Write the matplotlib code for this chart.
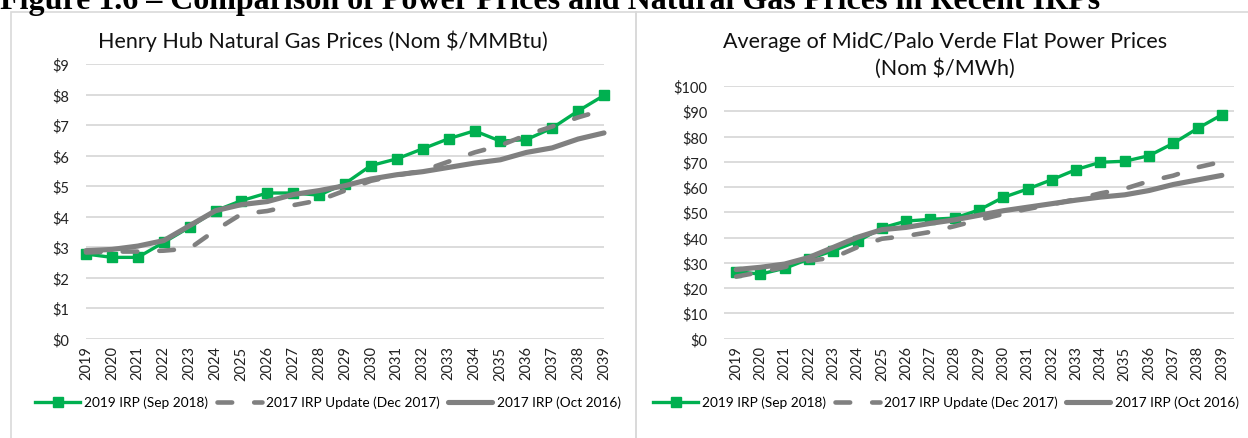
import numpy as np
import matplotlib.pyplot as plt
from matplotlib.lines import Line2D
from matplotlib.patches import Rectangle

plt.rcParams['font.family'] = ['Lato', 'DejaVu Sans']

# data
years = [str(y) for y in range(2019, 2040)]

gas_2019 = [2.77, 2.66, 2.66, 3.15, 3.65, 4.19, 4.52, 4.77, 4.77, 4.70, 5.08,
            5.67, 5.89, 6.22, 6.55, 6.81, 6.47, 6.52, 6.90, 7.46, 7.97]
gas_2017u = [2.82, 2.85, 2.85, 2.88, 2.95, 3.55, 4.08, 4.18, 4.37, 4.53, 4.85,
             5.17, 5.35, 5.50, 5.80, 6.10, 6.33, 6.67, 6.95, 7.25, 7.50]
gas_2017 = [2.88, 2.92, 3.03, 3.21, 3.70, 4.19, 4.39, 4.49, 4.72, 4.85, 5.01,
            5.23, 5.37, 5.47, 5.61, 5.75, 5.86, 6.10, 6.25, 6.54, 6.74]

pow_2019 = [26.5, 25.5, 27.8, 31.5, 34.8, 38.5, 43.8, 46.5, 47.2, 47.7, 50.9,
            55.9, 59.2, 62.9, 66.9, 69.8, 70.2, 72.4, 77.3, 83.2, 88.6]
pow_2017u = [24.5, 26.3, 28.3, 30.8, 32.0, 36.2, 39.5, 40.6, 42.2, 44.5, 47.0,
             49.3, 51.3, 53.1, 55.2, 57.5, 59.3, 62.3, 64.5, 67.8, 70.0]
pow_2017 = [27.3, 28.2, 29.5, 32.1, 36.1, 40.1, 43.1, 44.0, 45.6, 47.0, 48.8,
            50.6, 52.0, 53.4, 54.8, 56.0, 56.9, 58.6, 61.0, 62.8, 64.6]

series_names = ['2019 IRP (Sep 2018)', '2017 IRP Update (Dec 2017)', '2017 IRP (Oct 2016)']

GREEN = '#00B050'
GRAY = '#808080'
GRID = '#D9D9D9'

W, H = 1248, 439
fig = plt.figure(figsize=(W / 100, H / 100), dpi=100)

def px(x0, y0, x1, y1):
    # pixel box -> figure fraction [left, bottom, width, height]
    return [x0 / W, 1 - y1 / H, (x1 - x0) / W, (y1 - y0) / H]

# panel borders
fig.patches.append(Rectangle((11 / W, -0.1), (636 - 11) / W, 1.1 - 13 / H,
                             transform=fig.transFigure, fill=False, ec=GRID, lw=1.2))
fig.patches.append(Rectangle((636 / W, -0.1), 0.5, 1.1 - 13 / H,
                             transform=fig.transFigure, fill=False, ec=GRID, lw=1.2))

# page heading, cut off at the top as in the source page
fig.text(0.0, 1 - 9 / H, 'Figure 1.6 \u2013 Comparison of Power Prices and Natural Gas Prices in Recent IRPs',
         family='Liberation Serif', weight='bold', fontsize=23, ha='left', va='baseline')

def draw(ax, a, b, c, ymax, ystep, onticks):
    x = np.arange(len(years))
    ax.plot(x, a, color=GREEN, lw=2.4, marker='s', ms=6.8, zorder=3, clip_on=False)
    ax.plot(x, b, color=GRAY, lw=3.3, ls=(0, (3.2, 4.8)), dash_capstyle='round',
            zorder=4, clip_on=False)
    ax.plot(x, c, color=GRAY, lw=3.7, solid_capstyle='round', zorder=5, clip_on=False)
    ax.set_ylim(0, ymax)
    ax.set_yticks(np.arange(0, ymax + ystep / 2, ystep))
    ax.set_yticklabels(['$%d' % v for v in np.arange(0, ymax + ystep / 2, ystep)])
    if onticks:
        ax.set_xlim(0, len(years) - 1)
    else:
        ax.set_xlim(-0.5, len(years) - 0.5)
    ax.set_xticks(x)
    ax.set_xticklabels(years, rotation=90)
    ax.grid(axis='y', color=GRID, lw=1.3)
    ax.set_axisbelow(True)
    for s in ax.spines.values():
        s.set_visible(False)
    ax.tick_params(length=0, labelsize=10.5, colors='#222222')
    ax.tick_params(axis='y', pad=12)
    ax.tick_params(axis='x', pad=5)

ax1 = fig.add_axes(px(86, 65, 604, 339.5))
draw(ax1, gas_2019, gas_2017u, gas_2017, 9, 1, True)
ax2 = fig.add_axes(px(724, 87, 1234, 339.5))
draw(ax2, pow_2019, pow_2017u, pow_2017, 100, 10, False)

fig.text(323 / W, 1 - 48 / H, 'Henry Hub Natural Gas Prices (Nom $/MMBtu)',
         fontsize=15.5, ha='center', va='baseline', color='#111111')
fig.text(945 / W, 1 - 48 / H, 'Average of MidC/Palo Verde Flat Power Prices',
         fontsize=15.5, ha='center', va='baseline', color='#111111')
fig.text(945 / W, 1 - 75 / H, '(Nom $/MWh)',
         fontsize=15.5, ha='center', va='baseline', color='#111111')

handles = [Line2D([], [], color=GREEN, lw=2.4, marker='s', ms=6.8),
           Line2D([], [], color=GRAY, lw=3.3, ls=(0, (3.2, 4.8)), dash_capstyle='round'),
           Line2D([], [], color=GRAY, lw=3.7, solid_capstyle='round')]
for cx in (328, 946):
    fig.legend(handles, series_names, loc='center', bbox_to_anchor=(cx / W, 1 - 403 / H),
               ncol=3, frameon=False, fontsize=9.8, handlelength=3.3,
               handletextpad=0.3, columnspacing=0.6, borderpad=0, borderaxespad=0)

fig.savefig('out.png', dpi=100)
